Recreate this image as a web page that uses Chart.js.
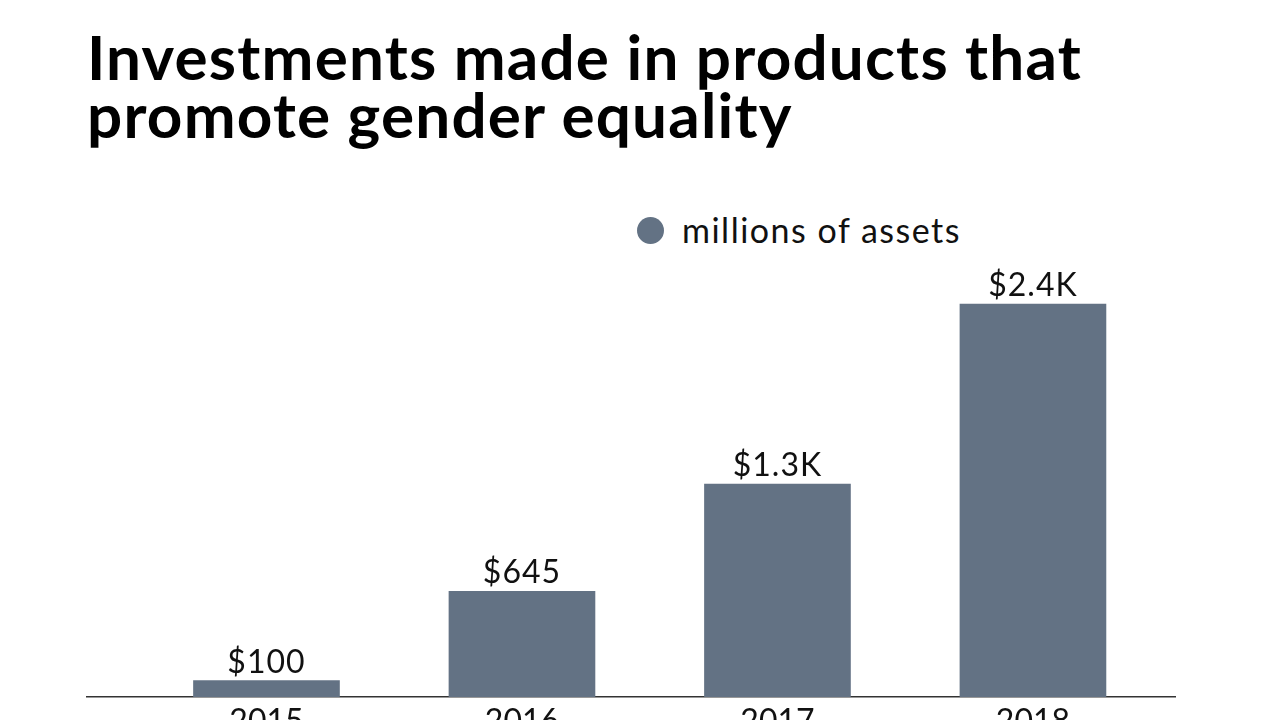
<!DOCTYPE html>
<html>
<head>
<meta charset="utf-8">
<title>Investments made in products that promote gender equality</title>
<script src="https://cdn.jsdelivr.net/npm/chart.js@4/dist/chart.umd.min.js"></script>
<style>
  html, body { margin: 0; padding: 0; background: #fff; overflow: hidden; }
  body { width: 1280px; height: 720px; position: relative; font-family: Lato, sans-serif; }
  #title {
    position: absolute; left: 87px; top: 27px;
    font-size: 62px; line-height: 58px; font-weight: 700; color: #000;
    margin: 0; letter-spacing: 1.2px;
  }
  #legend {
    position: absolute; left: 637px; top: 208px;
    font-size: 34px; line-height: 44px; color: #111; letter-spacing: 1.5px;
    display: flex; align-items: center;
  }
  #legend .dot {
    width: 27px; height: 27px; border-radius: 50%;
    background: #637284; margin-right: 18px;
  }
  #wrap { position: absolute; left: 0; top: 0; width: 1280px; height: 760px; }
</style>
</head>
<body>
<h1 id="title">Investments made in products that<br>promote gender equality</h1>
<div id="legend"><span class="dot"></span><span>millions of assets</span></div>
<div id="wrap"><canvas id="chart"></canvas></div>
<script>
// chart data
const years = ["2015", "2016", "2017", "2018"];
const assets = [100, 645, 1300, 2400];
const valueLabels = ["$100", "$645", "$1.3K", "$2.4K"];

const barColor = "#637284";

// Draws the value text above each bar
const barLabels = {
  id: "barLabels",
  afterDatasetsDraw(chart) {
    const ctx = chart.ctx;
    const meta = chart.getDatasetMeta(0);
    ctx.save();
    ctx.font = "32px Lato";
    ctx.letterSpacing = "1px";
    ctx.fillStyle = "#111";
    ctx.textAlign = "center";
    ctx.textBaseline = "alphabetic";
    meta.data.forEach((bar, i) => {
      ctx.fillText(valueLabels[i], bar.x, bar.y - 8);
    });
    ctx.restore();
  }
};

new Chart(document.getElementById("chart"), {
  type: "bar",
  data: {
    datasets: [{
      label: "millions of assets",
      data: assets.map((v, i) => ({ x: i, y: v })),
      backgroundColor: barColor,
      barThickness: 146
    }]
  },
  options: {
    responsive: true,
    maintainAspectRatio: false,
    animation: false,
    layout: { padding: { left: 87, right: 105, top: 255, bottom: 3 } },
    plugins: {
      legend: { display: false },
      tooltip: { enabled: false }
    },
    scales: {
      x: {
        type: "linear",
        offset: false,
        min: -0.7025,
        max: 3.556,
        grid: { display: false },
        border: { display: true, color: "#333", width: 1.5 },
        afterBuildTicks: axis => {
          axis.ticks = years.map((y, i) => ({ value: i }));
        },
        afterFit: axis => { axis.height = 60; },
        ticks: {
          color: "#111",
          font: { family: "Lato", size: 32 },
          padding: -3,
          callback: v => years[v]
        }
      },
      y: {
        display: false,
        min: 0,
        max: 2700
      }
    }
  },
  plugins: [barLabels]
});
</script>
</body>
</html>
